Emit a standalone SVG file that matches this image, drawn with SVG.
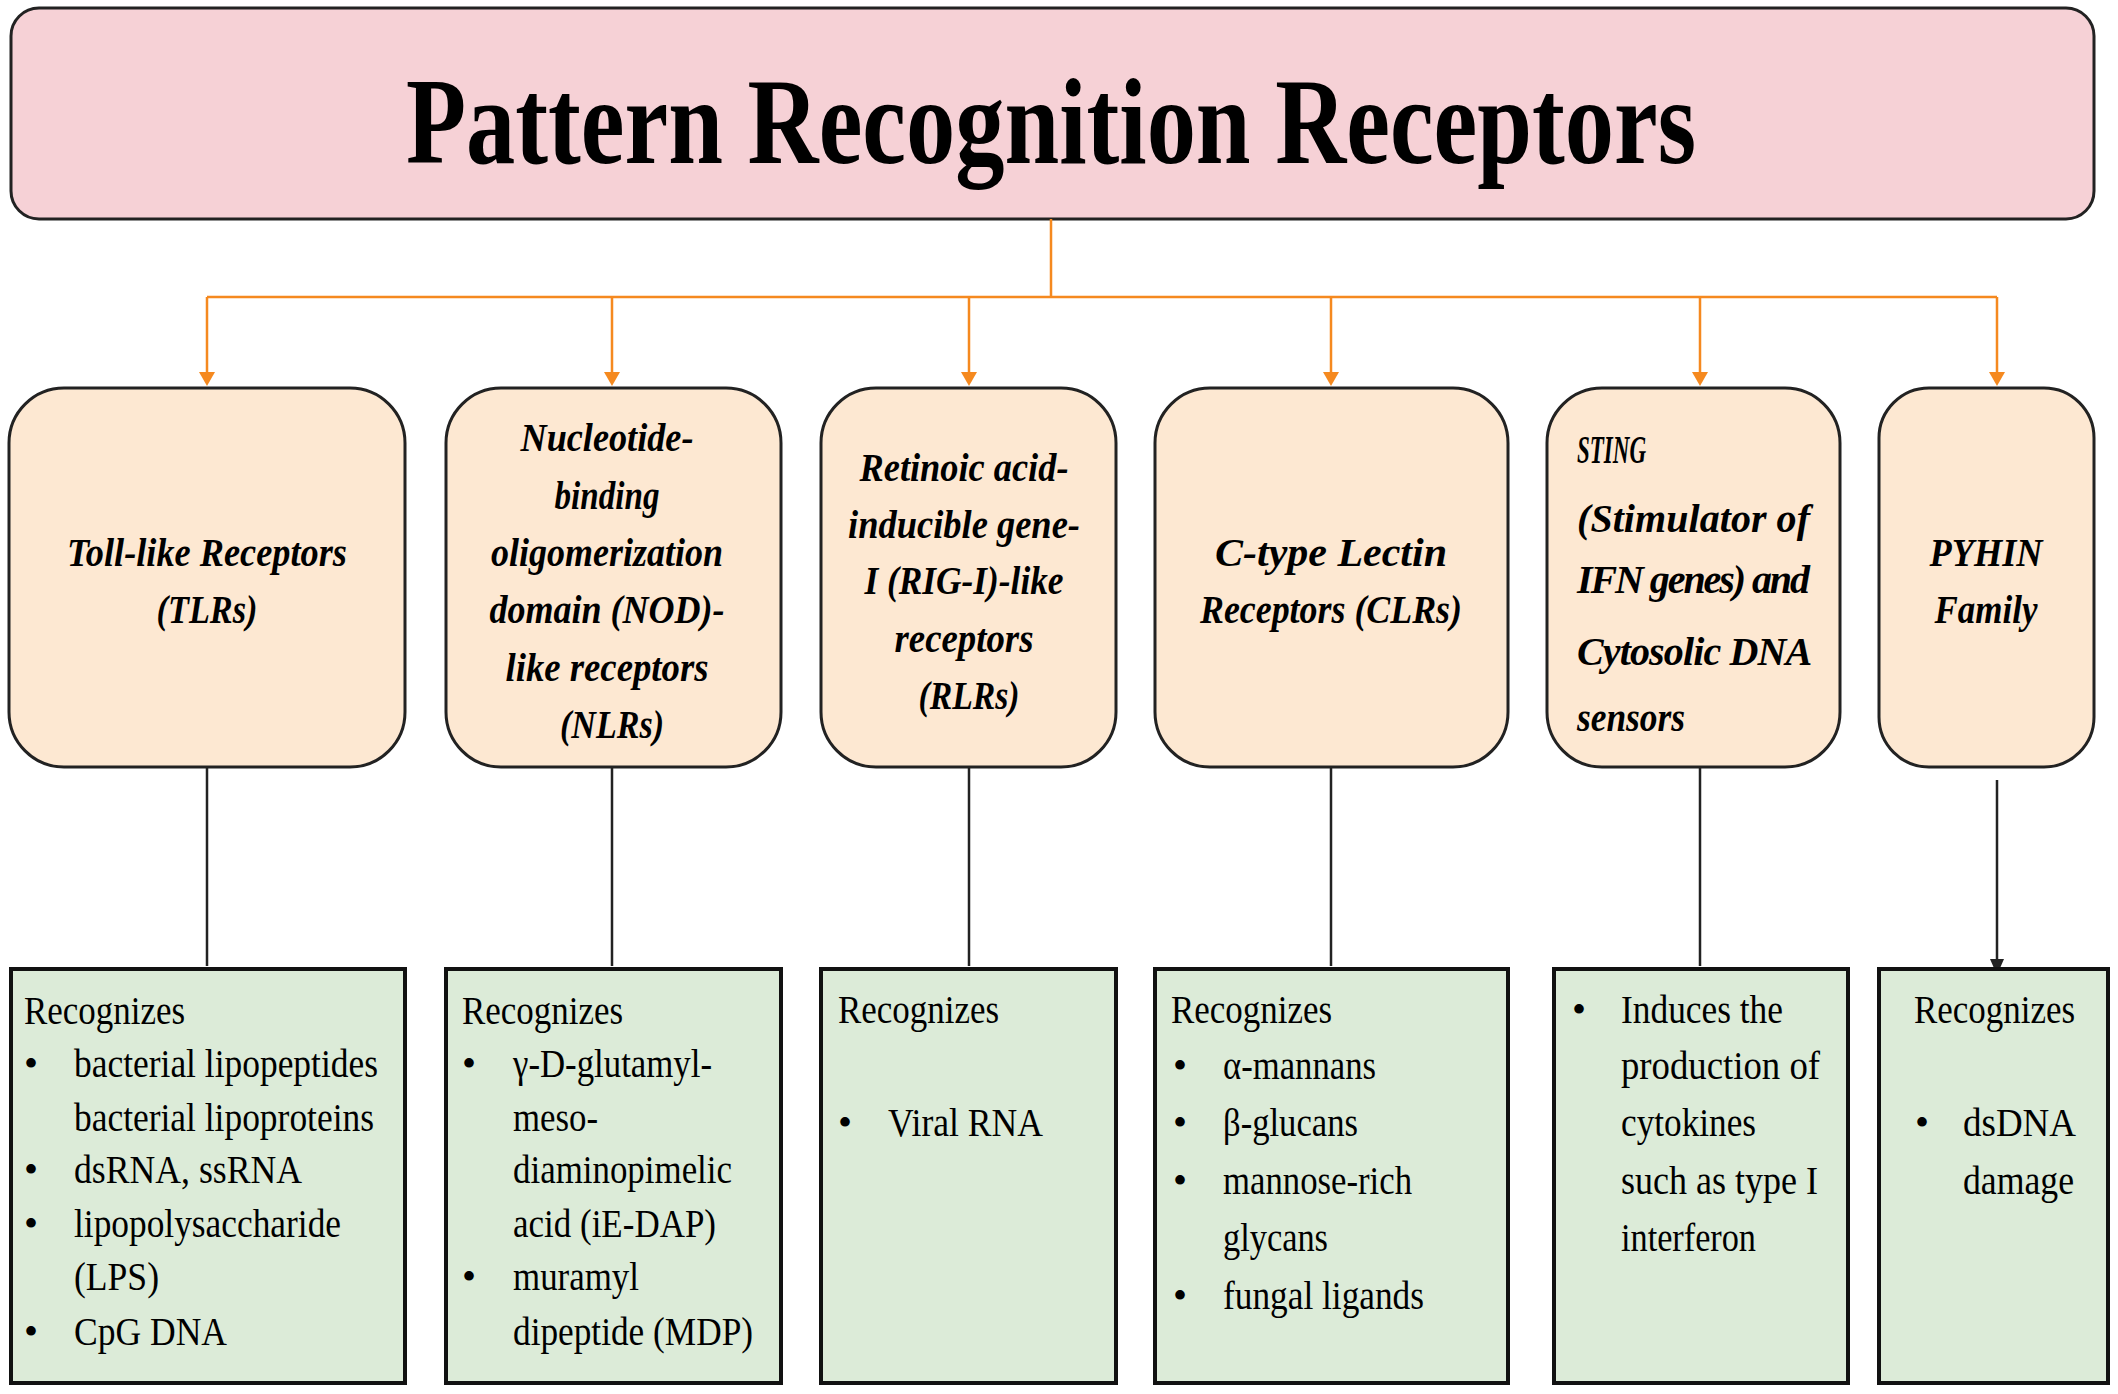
<svg xmlns="http://www.w3.org/2000/svg" width="2118" height="1394" viewBox="0 0 2118 1394">
<style>
.t{font-family:"Liberation Serif",serif;font-weight:bold;font-size:122px;fill:#000}
.h{font-family:"Liberation Serif",serif;font-weight:bold;font-style:italic;font-size:40px;fill:#000}
.b{font-family:"Liberation Serif",serif;font-size:40px;fill:#000}
.up{fill:#fde8d2;stroke:#222;stroke-width:3}
.lo{fill:#dcebd8;stroke:#111;stroke-width:4}
.oc{stroke:#f5891f;stroke-width:2.5;fill:none}
.bc{stroke:#222;stroke-width:2.5;fill:none}
</style>
<defs>
<marker id="ao" markerWidth="10" markerHeight="10" refX="8" refY="5" orient="auto" markerUnits="userSpaceOnUse"><path d="M0,0 L10,5 L0,10 z" fill="#f5891f" transform="scale(1.6) translate(-3,-2)"/></marker>
<marker id="ab" markerWidth="18" markerHeight="14" refX="16" refY="7" orient="auto" markerUnits="userSpaceOnUse"><path d="M0,0 L16,7 L0,14 z" fill="#222"/></marker>
</defs>
<g id="title"><rect x="11" y="8" width="2083" height="211" rx="28" fill="#f6d1d6" stroke="#222" stroke-width="3"/>
<text class="t" x="1051" y="163" text-anchor="middle" textLength="1290" lengthAdjust="spacingAndGlyphs">Pattern Recognition Receptors</text></g>
<g id="connectors">
<path class="oc" d="M1051,219 V297 M207,297 H1997"/>
<g fill="#f5891f">
<path d="M207,297V372"/><path d="M199,372 L215,372 L207,386 z"/>
<path d="M612,297V372"/><path d="M604,372 L620,372 L612,386 z"/>
<path d="M969,297V372"/><path d="M961,372 L977,372 L969,386 z"/>
<path d="M1331,297V372"/><path d="M1323,372 L1339,372 L1331,386 z"/>
<path d="M1700,297V372"/><path d="M1692,372 L1708,372 L1700,386 z"/>
<path d="M1997,297V372"/><path d="M1989,372 L2005,372 L1997,386 z"/>
</g>
<path class="oc" d="M207,297V374 M612,297V374 M969,297V374 M1331,297V374 M1700,297V374 M1997,297V374"/>
<path class="bc" d="M207,767V966 M612,767V966 M969,767V966 M1331,767V966 M1700,767V966 M1997,780V975" marker-end="url(#ab)"/>
</g>
<g id="tlr"><rect class="up" x="9" y="388" width="396" height="379" rx="55"/>
<text class="h" text-anchor="middle"><tspan x="207" y="566" textLength="280" lengthAdjust="spacingAndGlyphs">Toll-like Receptors</tspan><tspan x="207" y="623" textLength="101" lengthAdjust="spacingAndGlyphs">(TLRs)</tspan></text></g>
<g id="nlr"><rect class="up" x="446" y="388" width="335" height="379" rx="55"/>
<text class="h" text-anchor="middle">
<tspan x="612" y="451" textLength="173" lengthAdjust="spacingAndGlyphs">Nucleotide-</tspan>
<tspan x="612" y="509" textLength="105" lengthAdjust="spacingAndGlyphs">binding</tspan>
<tspan x="612" y="566" textLength="232" lengthAdjust="spacingAndGlyphs">oligomerization</tspan>
<tspan x="612" y="623" textLength="235" lengthAdjust="spacingAndGlyphs">domain (NOD)-</tspan>
<tspan x="612" y="681" textLength="203" lengthAdjust="spacingAndGlyphs">like receptors</tspan>
<tspan x="612" y="738" textLength="104" lengthAdjust="spacingAndGlyphs">(NLRs)</tspan></text></g>
<g id="rlr"><rect class="up" x="821" y="388" width="295" height="379" rx="55"/>
<text class="h" text-anchor="middle">
<tspan x="969" y="481" textLength="209" lengthAdjust="spacingAndGlyphs">Retinoic acid-</tspan>
<tspan x="969" y="538" textLength="232" lengthAdjust="spacingAndGlyphs">inducible gene-</tspan>
<tspan x="969" y="594" textLength="199" lengthAdjust="spacingAndGlyphs">I (RIG-I)-like</tspan>
<tspan x="969" y="652" textLength="139" lengthAdjust="spacingAndGlyphs">receptors</tspan>
<tspan x="969" y="709" textLength="101" lengthAdjust="spacingAndGlyphs">(RLRs)</tspan></text></g>
<g id="clr"><rect class="up" x="1155" y="388" width="353" height="379" rx="55"/>
<text class="h" text-anchor="middle"><tspan x="1331" y="566" textLength="232" lengthAdjust="spacingAndGlyphs">C-type Lectin</tspan><tspan x="1331" y="623" textLength="262" lengthAdjust="spacingAndGlyphs">Receptors (CLRs)</tspan></text></g>
<g id="sting"><rect class="up" x="1547" y="388" width="293" height="379" rx="55"/>
<text class="h">
<tspan x="1577" y="463" textLength="69" lengthAdjust="spacingAndGlyphs">STING</tspan>
<tspan x="1577" y="532" textLength="233" lengthAdjust="spacing">(Stimulator   of</tspan>
<tspan x="1577" y="593" textLength="233" lengthAdjust="spacing">IFN genes) and</tspan>
<tspan x="1577" y="665" textLength="233" lengthAdjust="spacing">Cytosolic   DNA</tspan>
<tspan x="1577" y="731" textLength="108" lengthAdjust="spacingAndGlyphs">sensors</tspan></text></g>
<g id="pyhin"><rect class="up" x="1879" y="388" width="215" height="379" rx="50"/>
<text class="h" text-anchor="middle"><tspan x="1986" y="566" textLength="113" lengthAdjust="spacingAndGlyphs">PYHIN</tspan><tspan x="1986" y="623" textLength="103" lengthAdjust="spacingAndGlyphs">Family</tspan></text></g>
<g id="tlr-ligands"><rect class="lo" x="11" y="969" width="394" height="414"/>
<text class="b"><tspan x="24" y="1024" textLength="161" lengthAdjust="spacingAndGlyphs">Recognizes</tspan>
<tspan x="24" y="1077">•</tspan><tspan x="74" y="1077" textLength="304" lengthAdjust="spacingAndGlyphs">bacterial lipopeptides</tspan>
<tspan x="74" y="1131" textLength="300" lengthAdjust="spacingAndGlyphs">bacterial lipoproteins</tspan>
<tspan x="24" y="1183">•</tspan><tspan x="74" y="1183" textLength="226" lengthAdjust="spacingAndGlyphs">dsRNA, ssRNA</tspan>
<tspan x="24" y="1237">•</tspan><tspan x="74" y="1237" textLength="267" lengthAdjust="spacingAndGlyphs">lipopolysaccharide</tspan>
<tspan x="74" y="1290" textLength="85" lengthAdjust="spacingAndGlyphs">(LPS)</tspan>
<tspan x="24" y="1345">•</tspan><tspan x="74" y="1345" textLength="153" lengthAdjust="spacingAndGlyphs">CpG DNA</tspan></text></g>
<g id="nlr-ligands"><rect class="lo" x="446" y="969" width="335" height="414"/>
<text class="b"><tspan x="462" y="1024" textLength="161" lengthAdjust="spacingAndGlyphs">Recognizes</tspan>
<tspan x="462" y="1077">•</tspan><tspan x="513" y="1077" textLength="199" lengthAdjust="spacingAndGlyphs">γ-D-glutamyl-</tspan>
<tspan x="513" y="1131" textLength="85" lengthAdjust="spacingAndGlyphs">meso-</tspan>
<tspan x="513" y="1183" textLength="219" lengthAdjust="spacingAndGlyphs">diaminopimelic</tspan>
<tspan x="513" y="1237" textLength="203" lengthAdjust="spacingAndGlyphs">acid (iE-DAP)</tspan>
<tspan x="462" y="1290">•</tspan><tspan x="513" y="1290" textLength="126" lengthAdjust="spacingAndGlyphs">muramyl</tspan>
<tspan x="513" y="1345" textLength="240" lengthAdjust="spacingAndGlyphs">dipeptide (MDP)</tspan></text></g>
<g id="rlr-ligands"><rect class="lo" x="821" y="969" width="295" height="414"/>
<text class="b"><tspan x="838" y="1023" textLength="161" lengthAdjust="spacingAndGlyphs">Recognizes</tspan>
<tspan x="838" y="1136">•</tspan><tspan x="888" y="1136" textLength="155" lengthAdjust="spacingAndGlyphs">Viral RNA</tspan></text></g>
<g id="clr-ligands"><rect class="lo" x="1155" y="969" width="353" height="414"/>
<text class="b"><tspan x="1171" y="1023" textLength="161" lengthAdjust="spacingAndGlyphs">Recognizes</tspan>
<tspan x="1173" y="1079">•</tspan><tspan x="1223" y="1079" textLength="153" lengthAdjust="spacingAndGlyphs">α-mannans</tspan>
<tspan x="1173" y="1136">•</tspan><tspan x="1223" y="1136" textLength="135" lengthAdjust="spacingAndGlyphs">β-glucans</tspan>
<tspan x="1173" y="1194">•</tspan><tspan x="1223" y="1194" textLength="189" lengthAdjust="spacingAndGlyphs">mannose-rich</tspan>
<tspan x="1223" y="1251" textLength="105" lengthAdjust="spacingAndGlyphs">glycans</tspan>
<tspan x="1173" y="1309">•</tspan><tspan x="1223" y="1309" textLength="201" lengthAdjust="spacingAndGlyphs">fungal ligands</tspan></text></g>
<g id="sting-effects"><rect class="lo" x="1554" y="969" width="294" height="414"/>
<text class="b"><tspan x="1572" y="1023">•</tspan><tspan x="1621" y="1023" textLength="162" lengthAdjust="spacingAndGlyphs">Induces the</tspan>
<tspan x="1621" y="1079" textLength="199" lengthAdjust="spacingAndGlyphs">production of</tspan>
<tspan x="1621" y="1136" textLength="135" lengthAdjust="spacingAndGlyphs">cytokines</tspan>
<tspan x="1621" y="1194" textLength="197" lengthAdjust="spacingAndGlyphs">such as type I</tspan>
<tspan x="1621" y="1251" textLength="135" lengthAdjust="spacingAndGlyphs">interferon</tspan></text></g>
<g id="pyhin-ligands"><rect class="lo" x="1879" y="969" width="229" height="414"/>
<text class="b"><tspan x="1914" y="1023" textLength="161" lengthAdjust="spacingAndGlyphs">Recognizes</tspan>
<tspan x="1915" y="1136">•</tspan><tspan x="1963" y="1136" textLength="111" lengthAdjust="spacingAndGlyphs">dsDNA</tspan>
<tspan x="1963" y="1194" textLength="111" lengthAdjust="spacingAndGlyphs">damage</tspan></text></g>
</svg>
